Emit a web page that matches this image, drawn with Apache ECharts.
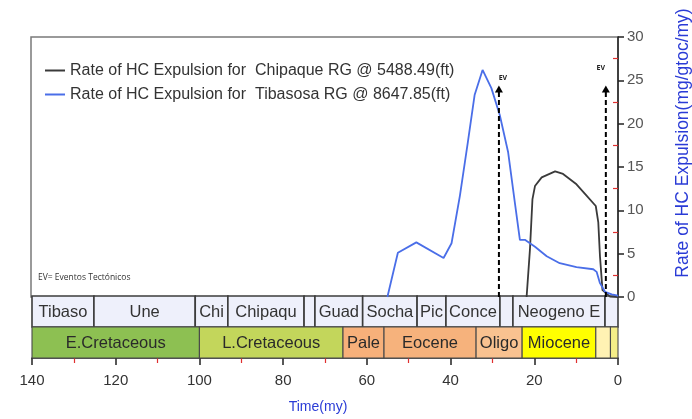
<!DOCTYPE html>
<html>
<head>
<meta charset="utf-8">
<script src="https://cdn.jsdelivr.net/npm/echarts@6/dist/echarts.min.js"></script>
<style>
  html, body { margin: 0; padding: 0; background: #fff; }
  #chart { width: 692px; height: 419px; }
</style>
</head>
<body>
<div id="chart"></div>
<script>
// Expulsion rate curves: [age (my), rate (mg/gtoc/my)]
const tibasosaRate = [
  [55.0, 0], [52.5, 5.1], [48.1, 6.3], [41.6, 4.5], [39.7, 6.2], [37.7, 11.7],
  [35.8, 17.9], [34.2, 23.3], [32.3, 26.2], [30.2, 24.1], [28.2, 21.0],
  [26.2, 16.7], [24.6, 10.9], [23.4, 6.6], [22.2, 6.6], [21.8, 6.7],
  [19.8, 5.8], [17.0, 4.7], [13.9, 3.9], [9.9, 3.45], [5.9, 3.2], [5.1, 2.9],
  [4.3, 1.6], [3.1, 0.6], [1.5, 0.3], [0.3, 0.2], [0, 0.1]
];
const chipaqueRate = [
  [21.8, 0], [21.0, 5.5], [20.4, 11.3], [19.8, 12.8], [18.2, 13.8],
  [15.0, 14.5], [13.1, 14.2], [9.9, 13.0], [7.5, 11.7], [5.3, 10.5],
  [4.7, 8.6], [4.3, 4.7], [3.7, 0.8], [1.9, 0.05], [0, 0]
];

const seriesNames = [
  'Rate of HC Expulsion for  Chipaque RG @ 5488.49(ft)',
  'Rate of HC Expulsion for  Tibasosa RG @ 8647.85(ft)'
];

// Tectonic events (my) and the rate level the arrows reach
const evTimes = [28.4, 2.9];
const evTop = 24.4;

// Formation column (upper strip): boundaries in my, names between them
const formationBounds = [140, 125.2, 101, 93.2, 75, 72.4, 61, 48, 41.1, 28.2, 25.1, 3.1, 0];
const formationNames = ['Tibaso', 'Une', 'Chi', 'Chipaqu', '', 'Guad', 'Socha', 'Pic', 'Conce', '', 'Neogeno E', ''];

// Epoch column (lower strip)
const epochBounds = [140, 100, 65.7, 55.9, 33.9, 22.9, 5.3, 1.8, 0];
const epochNames = ['E.Cretaceous', 'L.Cretaceous', 'Pale', 'Eocene', 'Oligo', 'Miocene', '', ''];

// Axis settings
const xTicks = { min: 0, max: 140, interval: 20 };
const yTicks = { min: 0, max: 30, interval: 5 };

// Styling
const epochColors = ['#8dc052', '#c3d65b', '#f7b07a', '#f6b27c', '#f9c290', '#ffff00', '#fff2b3', '#f5ee88'];
const evLabelOffset = [[4, -8], [-5, -18]];
const FONT = '"Liberation Sans", Arial, sans-serif';

const bandData = [];
for (let i = 0; i < formationNames.length; i++) {
  bandData.push([formationBounds[i], formationBounds[i + 1], 1, formationNames[i], -1]);
}
for (let i = 0; i < epochNames.length; i++) {
  bandData.push([epochBounds[i], epochBounds[i + 1], 0, epochNames[i], i]);
}

const chart = echarts.init(document.getElementById('chart'), null, { renderer: 'canvas' });

chart.setOption({
  animation: false,
  backgroundColor: '#fff',
  textStyle: { fontFamily: FONT },
  legend: {
    left: 45, top: 62, padding: 0, orient: 'vertical',
    itemWidth: 20, itemHeight: 2, itemGap: 7, icon: 'rect',
    textStyle: { fontSize: 16, color: '#333', lineHeight: 17, fontFamily: FONT },
    data: seriesNames
  },
  grid: [
    { left: 31, right: 74, top: 37, bottom: 122, show: true, borderColor: '#7a7a7a', borderWidth: 1.5 },
    { left: 32, right: 74, top: 296, bottom: 61 }
  ],
  xAxis: [
    {
      gridIndex: 0, type: 'value', inverse: true,
      min: xTicks.min, max: xTicks.max, interval: xTicks.interval,
      axisLine: { show: false }, axisTick: { show: false },
      axisLabel: { show: false }, splitLine: { show: false }
    },
    {
      gridIndex: 1, type: 'value', inverse: true,
      min: xTicks.min, max: xTicks.max, interval: xTicks.interval,
      axisLine: { show: true, lineStyle: { color: '#222', width: 1.5 } },
      axisTick: { show: true, length: 7, lineStyle: { color: '#222', width: 1.5 } },
      minorTick: { show: true, splitNumber: 2, length: 5, lineStyle: { color: '#e03030', width: 1.2 } },
      axisLabel: { show: true, margin: 15, fontSize: 15, color: '#333', fontFamily: FONT },
      splitLine: { show: false },
      name: 'Time(my)', nameLocation: 'middle', nameGap: 42,
      nameTextStyle: { color: '#2a3bd6', fontSize: 14, fontFamily: FONT, padding: [0, 14, 0, 0] }
    }
  ],
  yAxis: [
    {
      gridIndex: 0, type: 'value', position: 'right',
      min: yTicks.min, max: yTicks.max, interval: yTicks.interval,
      axisLine: { show: true, lineStyle: { color: '#222', width: 1.5 } },
      axisTick: { show: true, length: 6, lineStyle: { color: '#222', width: 1.5 } },
      axisLabel: { show: true, margin: 9, fontSize: 15, color: '#555', fontFamily: FONT },
      splitLine: { show: false }
    },
    {
      gridIndex: 1, type: 'value', min: 0, max: 2,
      show: false
    },
    {
      // red half-step ticks on the inner side of the rate axis
      gridIndex: 0, type: 'value', position: 'right',
      min: yTicks.min, max: yTicks.max, interval: yTicks.interval,
      axisLine: { show: false },
      axisTick: { show: false, inside: true },
      minorTick: { show: true, splitNumber: 2, length: 5, lineStyle: { color: '#e03030', width: 1.2 } },
      axisLabel: { show: false }, splitLine: { show: false }
    }
  ],
  graphic: [
    {
      type: 'text', left: 38, top: 273,
      style: { text: 'EV= Eventos Tectónicos', fontSize: 8.5, fill: '#333', fontFamily: '"Open Sans", sans-serif' }
    },
    {
      type: 'text', x: 683, y: 143, rotation: Math.PI / 2,
      style: {
        text: 'Rate of HC Expulsion(mg/gtoc/my)', fontSize: 17.5, fill: '#2a3bd6',
        fontFamily: FONT, align: 'center', verticalAlign: 'middle'
      }
    }
  ],
  series: [
    {
      name: seriesNames[0], type: 'line', xAxisIndex: 0, yAxisIndex: 0,
      data: chipaqueRate, symbol: 'none', smooth: false,
      lineStyle: { color: '#3a3a3a', width: 1.8 }, itemStyle: { color: '#3a3a3a' }, z: 3
    },
    {
      name: seriesNames[1], type: 'line', xAxisIndex: 0, yAxisIndex: 0,
      data: tibasosaRate, symbol: 'none', smooth: false,
      lineStyle: { color: '#4a6ee8', width: 1.8 }, itemStyle: { color: '#4a6ee8' }, z: 3
    },
    {
      // tectonic event arrows
      type: 'custom', xAxisIndex: 0, yAxisIndex: 0, z: 4,
      data: evTimes.map(t => [t, evTop]),
      renderItem: function (params, api) {
        const base = api.coord([api.value(0), 0]);
        const top = api.coord([api.value(0), api.value(1)]);
        const off = evLabelOffset[params.dataIndex];
        return {
          type: 'group',
          children: [
            {
              type: 'line',
              shape: { x1: base[0], y1: base[1], x2: top[0], y2: top[1] + 6 },
              style: { stroke: '#000', lineWidth: 2, lineDash: [5, 3] }
            },
            {
              type: 'polygon',
              shape: { points: [[top[0], top[1]], [top[0] - 4, top[1] + 7], [top[0] + 4, top[1] + 7]] },
              style: { fill: '#000' }
            },
            {
              type: 'text',
              style: {
                text: 'EV', x: top[0] + off[0], y: top[1] + off[1],
                fontSize: 7, fontWeight: 'bold', fill: '#222',
                fontFamily: '"Open Sans", sans-serif', align: 'center', verticalAlign: 'middle'
              }
            }
          ]
        };
      }
    },
    {
      // stratigraphic strips
      type: 'custom', xAxisIndex: 1, yAxisIndex: 1, z: 2,
      data: bandData,
      renderItem: function (params, api) {
        const p0 = api.coord([api.value(0), api.value(2) + 1]);
        const p1 = api.coord([api.value(1), api.value(2)]);
        const row = api.value(2);
        const idx = bandData[params.dataIndex][4];
        const name = bandData[params.dataIndex][3];
        const fill = row === 1 ? '#eef0fb' : epochColors[idx];
        const x = Math.min(p0[0], p1[0]);
        const w = Math.abs(p1[0] - p0[0]);
        const y = Math.min(p0[1], p1[1]);
        const h = Math.abs(p1[1] - p0[1]);
        return {
          type: 'group',
          children: [
            {
              type: 'rect',
              shape: { x: x, y: y, width: w, height: h },
              style: {
                fill: fill,
                stroke: row === 1 ? '#3c3c3c' : '#4a4a4a',
                lineWidth: row === 1 ? 1.6 : 1.1
              }
            },
            {
              type: 'text',
              style: {
                text: name, x: x + w / 2, y: y + h / 2 + 1,
                fontSize: 16.5, fill: row === 1 ? '#333' : '#2a2a2a',
                fontFamily: FONT, align: 'center', verticalAlign: 'middle'
              }
            }
          ]
        };
      }
    }
  ]
});
</script>
</body>
</html>
